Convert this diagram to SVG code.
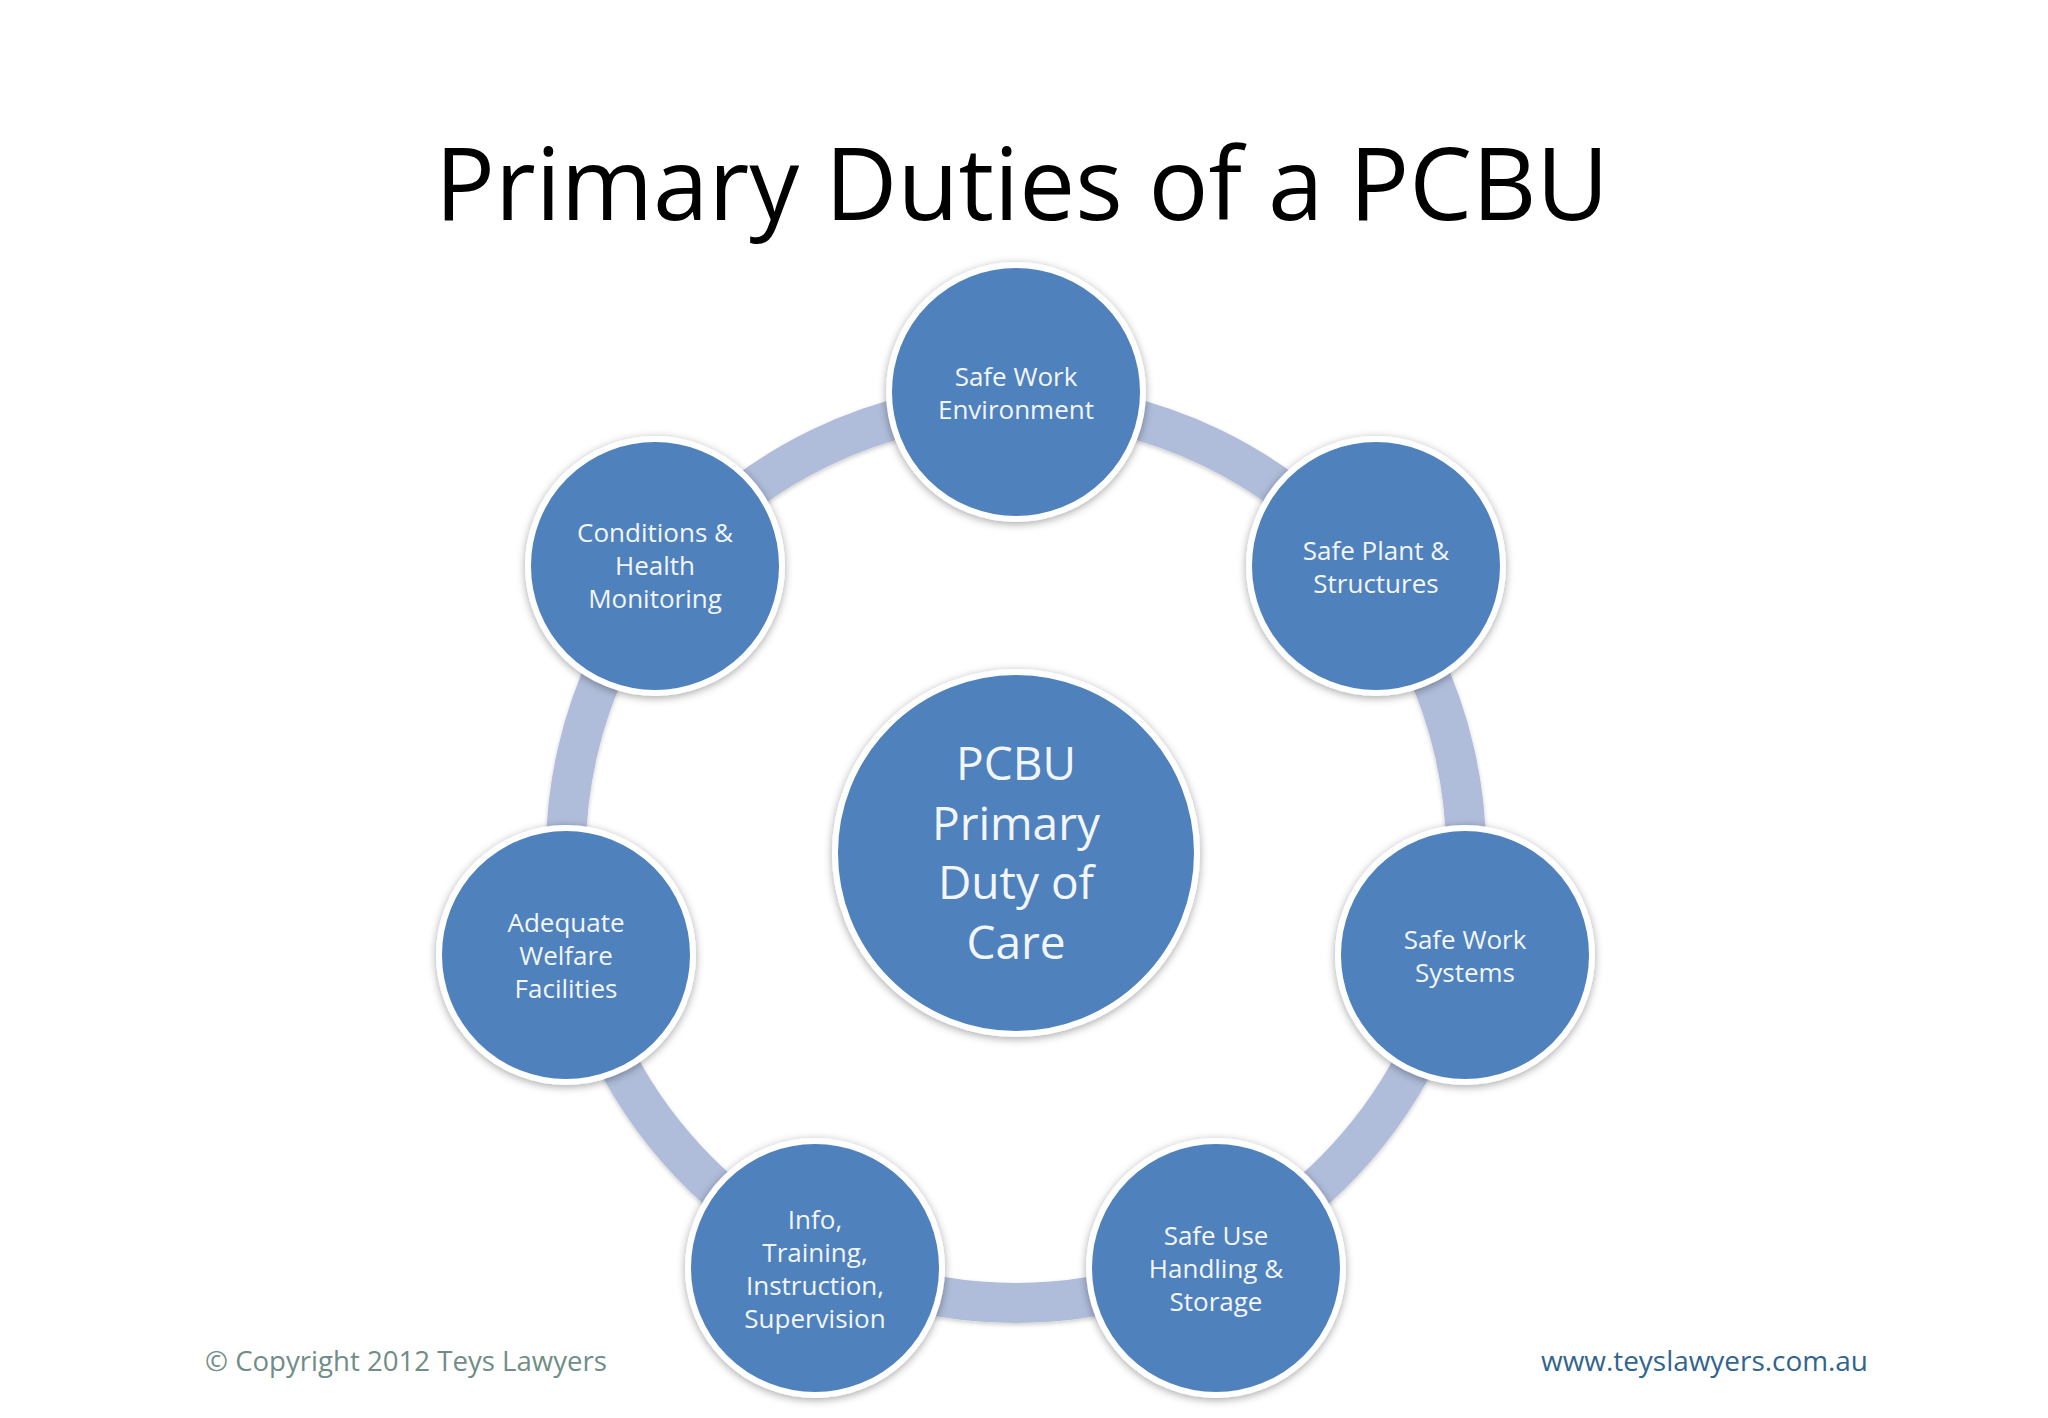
<svg xmlns="http://www.w3.org/2000/svg" width="2048" height="1418" viewBox="0 0 2048 1418">
<defs>
<filter id="sh" x="-20%" y="-20%" width="140%" height="140%">
<feDropShadow dx="0" dy="2" stdDeviation="4" flood-color="#000" flood-opacity="0.35"/>
</filter>
<filter id="ash" filterUnits="userSpaceOnUse" x="0" y="0" width="2048" height="1418">
<feDropShadow dx="0" dy="2" stdDeviation="2" flood-color="#000" flood-opacity="0.2"/>
</filter>
</defs>
<style>
.node{fill:#4f81bd;stroke:#ffffff;stroke-width:6;filter:url(#sh)}
.lbl{font-family:"Open Sans","Noto Sans",sans-serif;font-size:26px;fill:#f2f6fb;text-anchor:middle}
.big{font-family:"Open Sans","Noto Sans",sans-serif;font-size:46px;fill:#f2f6fb;text-anchor:middle}
.arc{fill:none;stroke:#afbdda;stroke-width:40;filter:url(#ash)}
</style>
<rect width="2048" height="1418" fill="#ffffff"/>
<text x="1022" y="220" font-family="'Open Sans','Noto Sans',sans-serif" font-size="100" fill="#000" text-anchor="middle" textLength="1174" lengthAdjust="spacingAndGlyphs">Primary Duties of a PCBU</text>
<g id="connectors">
<path class="arc" d="M1016,403 A450,450 0 0 1 1367.8,572.4"/>
<path class="arc" d="M1367.8,572.4 A450,450 0 0 1 1454.7,953.1"/>
<path class="arc" d="M1454.7,953.1 A450,450 0 0 1 1211.2,1258.4"/>
<path class="arc" d="M1211.2,1258.4 A450,450 0 0 1 820.8,1258.4"/>
<path class="arc" d="M820.8,1258.4 A450,450 0 0 1 577.3,953.1"/>
<path class="arc" d="M577.3,953.1 A450,450 0 0 1 664.2,572.4"/>
<path class="arc" d="M664.2,572.4 A450,450 0 0 1 1016,403"/>
</g>
<g id="center">
<circle class="node" cx="1016" cy="853" r="181"/>
<text class="big" x="1016" y="780"><tspan x="1016">PCBU</tspan><tspan x="1016" dy="59.5">Primary</tspan><tspan x="1016" dy="59.5">Duty of</tspan><tspan x="1016" dy="59.5">Care</tspan></text>
</g>
<g id="n1">
<circle class="node" cx="1016" cy="392" r="127"/>
<text class="lbl" x="1016" y="386"><tspan x="1016">Safe Work</tspan><tspan x="1016" dy="33">Environment</tspan></text>
</g>
<g id="n2">
<circle class="node" cx="1376" cy="566" r="127"/>
<text class="lbl" x="1376" y="560"><tspan x="1376">Safe Plant &amp;</tspan><tspan x="1376" dy="33">Structures</tspan></text>
</g>
<g id="n3">
<circle class="node" cx="1465" cy="955" r="127"/>
<text class="lbl" x="1465" y="949"><tspan x="1465">Safe Work</tspan><tspan x="1465" dy="33">Systems</tspan></text>
</g>
<g id="n4">
<circle class="node" cx="1216" cy="1268" r="127"/>
<text class="lbl" x="1216" y="1245"><tspan x="1216">Safe Use</tspan><tspan x="1216" dy="33">Handling &amp;</tspan><tspan x="1216" dy="33">Storage</tspan></text>
</g>
<g id="n5">
<circle class="node" cx="815" cy="1268" r="127"/>
<text class="lbl" x="815" y="1229"><tspan x="815">Info,</tspan><tspan x="815" dy="33">Training,</tspan><tspan x="815" dy="33">Instruction,</tspan><tspan x="815" dy="33">Supervision</tspan></text>
</g>
<g id="n6">
<circle class="node" cx="566" cy="955" r="127"/>
<text class="lbl" x="566" y="932"><tspan x="566">Adequate</tspan><tspan x="566" dy="33">Welfare</tspan><tspan x="566" dy="33">Facilities</tspan></text>
</g>
<g id="n7">
<circle class="node" cx="655" cy="566" r="127"/>
<text class="lbl" x="655" y="542"><tspan x="655">Conditions &amp;</tspan><tspan x="655" dy="33">Health</tspan><tspan x="655" dy="33">Monitoring</tspan></text>
</g>
<text x="205" y="1371" font-family="'Open Sans','Noto Sans',sans-serif" font-size="28" fill="#708d87" textLength="402" lengthAdjust="spacingAndGlyphs">© Copyright 2012 Teys Lawyers</text>
<text x="1541" y="1371" font-family="'Open Sans','Noto Sans',sans-serif" font-size="28" fill="#31648f" textLength="327" lengthAdjust="spacingAndGlyphs">www.teyslawyers.com.au</text>
</svg>
